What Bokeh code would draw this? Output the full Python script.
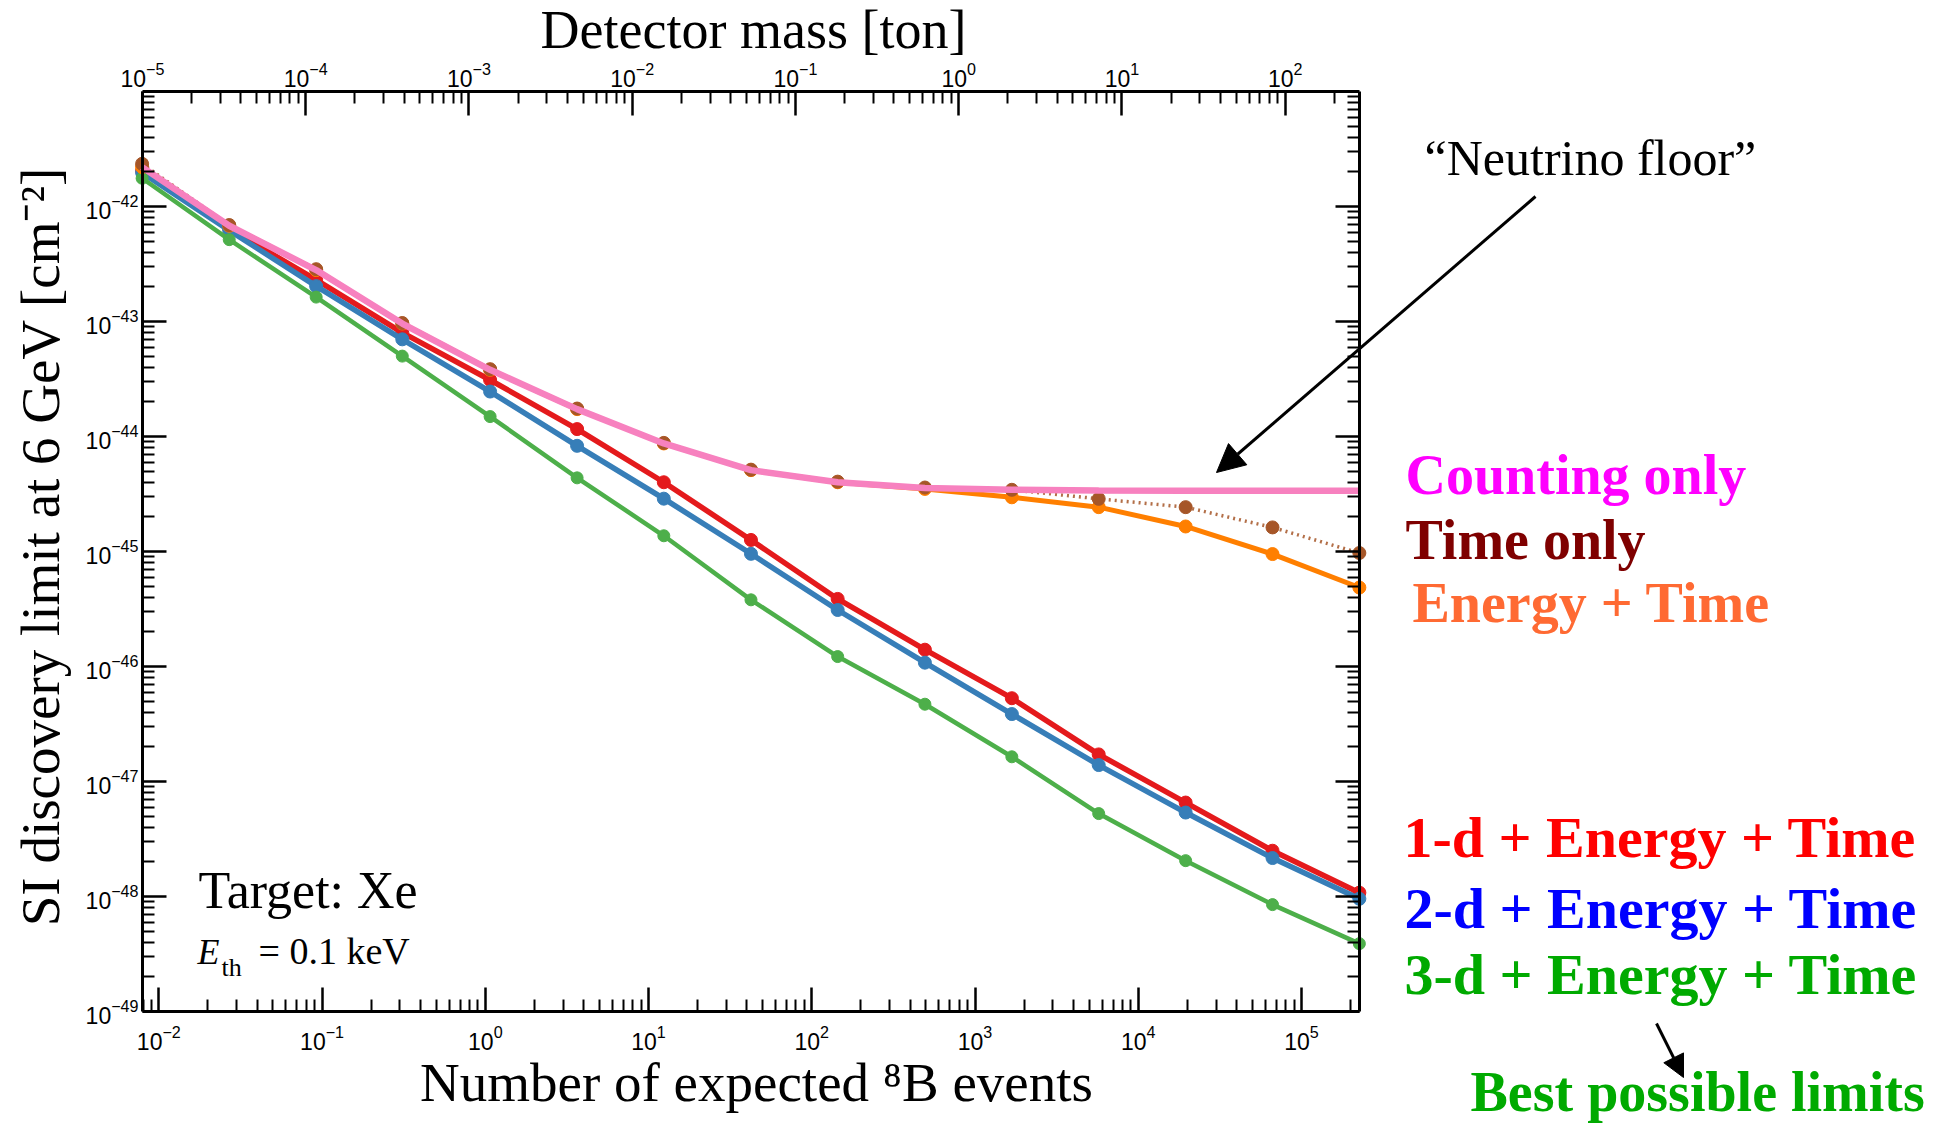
import math

from bokeh.plotting import figure
from bokeh.models import (Range1d, LogAxis, LogScale, FixedTicker, Label, Arrow,
                          NormalHead, CustomJSTickFormatter)
from bokeh.embed import file_html
from bokeh.resources import INLINE

# Expected number of 8B events at each exposure step (log-spaced exposures)
events = [0.0079, 0.027, 0.092, 0.31, 1.07, 3.65, 12.4, 42.4, 144, 493,
          1680, 5720, 19500, 66400, 226000]

# SI discovery limit at 6 GeV [cm^-2] for each analysis
counting_only = [2.2e-42, 6.8e-43, 2.8e-43, 9.6e-44, 3.8e-44, 1.73e-44, 8.7e-45,
                 5.1e-45, 4.0e-45, 3.56e-45, 3.45e-45, 3.4e-45, 3.38e-45, 3.37e-45, 3.37e-45]
time_only = [2.35e-42, 6.9e-43, 2.85e-43, 9.7e-44, 3.85e-44, 1.75e-44, 8.8e-45,
             5.15e-45, 4.05e-45, 3.6e-45, 3.44e-45, 2.87e-45, 2.43e-45, 1.62e-45, 9.7e-46]
energy_time = [2.2e-42, 6.8e-43, 2.8e-43, 9.6e-44, 3.8e-44, 1.73e-44, 8.7e-45,
               5.1e-45, 4.0e-45, 3.5e-45, 2.96e-45, 2.43e-45, 1.65e-45, 9.5e-46, 4.86e-46]
dir1d_energy_time = [2.05e-42, 6.4e-43, 2.3e-43, 8.0e-44, 3.1e-44, 1.16e-44, 4.0e-45,
                     1.26e-45, 3.87e-46, 1.4e-46, 5.3e-47, 1.72e-47, 6.56e-48, 2.5e-48, 1.08e-48]
dir2d_energy_time = [1.97e-42, 6.2e-43, 2.03e-43, 7.0e-44, 2.46e-44, 8.3e-45, 2.88e-45,
                     9.55e-46, 3.1e-46, 1.08e-46, 3.86e-47, 1.39e-47, 5.37e-48, 2.16e-48, 9.55e-49]
dir3d_energy_time = [1.76e-42, 5.15e-43, 1.63e-43, 5.0e-44, 1.49e-44, 4.37e-45, 1.37e-45,
                     3.8e-46, 1.22e-46, 4.7e-47, 1.64e-47, 5.26e-48, 2.05e-48, 8.5e-49, 3.89e-49]

# Axis box limits (log10)
LOG_N0, LOG_N1 = -2.1, 5.355       # expected 8B events
LOG_M0 = -5.0                      # detector mass [ton] at the left edge
LOG_S0, LOG_S1 = -49.0, -41.0      # cross section [cm^2]

event_decades = list(range(-2, 6))
mass_decades = list(range(-5, 3))
sigma_decades = list(range(-49, -41))

# Page size and the pixel box holding the axes; the drawing area is the whole
# page so that notes and pointers outside the box are not cut off.
W, H = 1946, 1129
FL, FR, FT, FB = 142, 1359, 91, 1011
KX = (LOG_N1 - LOG_N0) / (FR - FL)          # decades per pixel, horizontal
KY = (LOG_S1 - LOG_S0) / (FB - FT)          # decades per pixel, vertical
DROP = 0.32                                 # label anchor sits this many em below the baseline

SERIF = "Liberation Serif"
SANS = "Liberation Sans"


def at(px, py):
    """Convert a page pixel position into data coordinates of the main axes."""
    return 10 ** (LOG_N0 + (px - FL) * KX), 10 ** (LOG_S1 - (py - FT) * KY)


def log_ticker(decades, lo, hi):
    """Decade ticks plus 2..9 minor ticks, kept inside [lo, hi]."""
    major = [10.0 ** k for k in decades]
    minor = [m * 10.0 ** k for k in range(decades[0] - 1, decades[-1] + 1) for m in range(2, 10)]
    minor = [t for t in minor if lo <= t <= hi]
    return FixedTicker(ticks=major, minor_ticks=minor)


def style_axis(ax, size, standoff):
    ax.axis_line_width = 3
    ax.axis_line_color = "black"
    ax.major_tick_in = 24
    ax.major_tick_out = 0
    ax.minor_tick_in = 12
    ax.minor_tick_out = 0
    ax.major_tick_line_width = 2.5
    ax.minor_tick_line_width = 2
    ax.major_tick_line_color = "black"
    ax.minor_tick_line_color = "black"
    ax.major_label_text_font = SANS
    ax.major_label_text_font_size = size
    ax.major_label_text_color = "black"
    ax.major_label_standoff = standoff


x_start, _ = at(0, 0)
x_end, _ = at(W, 0)
_, y_end = at(0, 0)
_, y_start = at(0, H)

p = figure(width=W, height=H, x_axis_type="log", y_axis_type="log",
           x_range=Range1d(x_start, x_end), y_range=Range1d(y_start, y_end),
           output_backend="svg", toolbar_location=None, min_border=0)
p.title.visible = False
p.xgrid.grid_line_color = None
p.ygrid.grid_line_color = None
p.outline_line_color = None
p.background_fill_color = "white"
p.border_fill_color = "white"

box_x = (10 ** LOG_N0 * 0.99999, 10 ** LOG_N1)
box_y = (10 ** LOG_S0 * 0.99999, 10 ** LOG_S1 * 1.00001)
mass_offset = LOG_N0 - LOG_M0
box_m = (10 ** LOG_M0 * 0.99999, 10 ** (LOG_N1 - mass_offset))

bottom = p.below[0]
bottom.ticker = log_ticker(event_decades, *box_x)
bottom.fixed_location = 10 ** LOG_S0
bottom.bounds = box_x
style_axis(bottom, "23px", 13)

left = p.left[0]
left.ticker = log_ticker(sigma_decades, *box_y)
left.fixed_location = 10 ** LOG_N0
left.bounds = box_y
style_axis(left, "23px", 4)

p.extra_x_ranges = {"mass": Range1d(x_start / 10 ** mass_offset, x_end / 10 ** mass_offset)}
p.extra_x_scales = {"mass": LogScale()}
top = LogAxis(x_range_name="mass", ticker=log_ticker(mass_decades, *box_m),
              fixed_location=10 ** LOG_S1, bounds=box_m)
style_axis(top, "23px", 5)
p.add_layout(top, "above")

right = LogAxis(ticker=log_ticker(sigma_decades, *box_y), fixed_location=10 ** LOG_N1,
                bounds=box_y, formatter=CustomJSTickFormatter(code="return ''"))
style_axis(right, "23px", 0)
p.add_layout(right, "right")

# Curves, back to front
RED, BLUE, GREEN = "#e41a1c", "#377eb8", "#4daf4a"
ORANGE, BROWN, PINK = "#ff7f00", "#a65628", "#f781bf"

p.line(events, dir1d_energy_time, line_color=RED, line_width=5.5)
p.scatter(events, dir1d_energy_time, size=13, fill_color=RED, line_color=RED)
p.line(events, dir2d_energy_time, line_color=BLUE, line_width=5.5)
p.scatter(events, dir2d_energy_time, size=13, fill_color=BLUE, line_color=BLUE)
p.line(events, dir3d_energy_time, line_color=GREEN, line_width=4.5)
p.scatter(events, dir3d_energy_time, size=12, fill_color=GREEN, line_color=GREEN)
p.line(events, energy_time, line_color=ORANGE, line_width=5)
p.scatter(events, energy_time, size=13, fill_color=ORANGE, line_color=ORANGE)
p.line(events, time_only, line_color=BROWN, line_width=3.5, line_dash="2 4", line_alpha=0.85)
p.scatter(events, time_only, size=13, fill_color=BROWN, line_color=BROWN)
p.line(events, counting_only, line_color=PINK, line_width=6.5)


def add_text(px, py, text, size, color="black", style="normal", align="left", vertical=False):
    """Place a text with its baseline at page pixel (px, py)."""
    if vertical:
        px, angle = px - DROP * size, math.pi / 2
    else:
        py, angle = py - DROP * size, 0.0
    x, y = at(px, py)
    p.add_layout(Label(x=x, y=y, text=text, text_font=SERIF, text_font_size=f"{size}px",
                       text_font_style=style, text_color=color, text_align=align,
                       text_baseline="alphabetic", angle=angle))


# Axis titles
add_text(753, 47, "Detector mass [ton]", 54, align="center")
add_text(756, 1100, "Number of expected \u2078B events", 55, align="center")
add_text(58, 546, "SI discovery limit at 6 GeV [cm\u207b\u00b2]", 55,
         align="center", vertical=True)

# In-plot notes
add_text(198, 907, "Target: Xe", 52)
add_text(197, 963, "E", 36, style="italic")
add_text(221, 975, "th", 26)
add_text(258, 963, "= 0.1 keV", 38)

# Curve names on the right
add_text(1405, 492, "Counting only", 56, "#ff00ff", style="bold")
add_text(1405, 557, "Time only", 56, "#7f0000", style="bold")
add_text(1412, 620, "Energy + Time", 56, "#ff6a33", style="bold")
add_text(1403, 856, "1-d + Energy + Time", 58, "#ff0000", style="bold")
add_text(1404, 927, "2-d + Energy + Time", 58, "#0000ff", style="bold")
add_text(1404, 993, "3-d + Energy + Time", 58, "#00aa00", style="bold")
add_text(1470, 1109, "Best possible limits", 56, "#00aa00", style="bold")
add_text(1424, 173, "\u201cNeutrino floor\u201d", 50)

# Pointer arrows
x0, y0 = at(1535, 196)
x1, y1 = at(1216, 472)
p.add_layout(Arrow(end=NormalHead(size=28, fill_color="black", line_color="black"),
                   x_start=x0, y_start=y0, x_end=x1, y_end=y1,
                   line_width=3, line_color="black"))
x0, y0 = at(1656, 1023)
x1, y1 = at(1683, 1077)
p.add_layout(Arrow(end=NormalHead(size=22, fill_color="black", line_color="black"),
                   x_start=x0, y_start=y0, x_end=x1, y_end=y1,
                   line_width=3, line_color="black"))

open("out.html", "w").write(file_html(p, INLINE))
